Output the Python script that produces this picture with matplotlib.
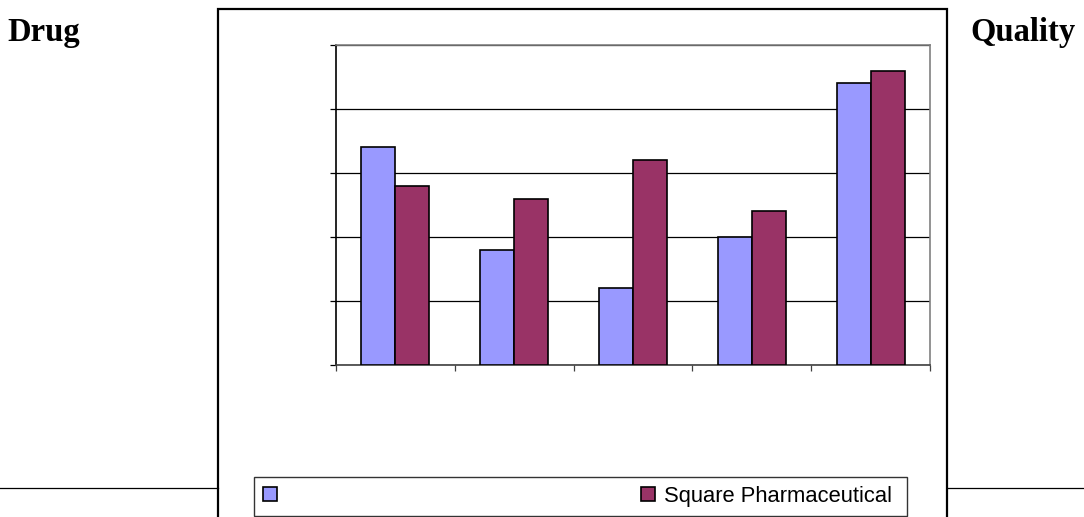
import numpy as np
import matplotlib.pyplot as plt
from matplotlib.patches import Rectangle, Patch
from matplotlib.lines import Line2D

# data (no axis labels in the original)
categories = ['1', '2', '3', '4', '5']
series_names = ['', 'Square Pharmaceutical']
values_blue = [3.4, 1.8, 1.2, 2.0, 4.4]
values_red = [2.8, 2.6, 3.2, 2.4, 4.6]

blue = '#9999FF'
red = '#993366'

W, H = 1084, 517
fig = plt.figure(figsize=(W / 100, H / 100), dpi=100)

# side words of the page text
fig.text(7 / W, 1 - 41 / H, 'Drug', family='Liberation Serif', weight='bold',
         fontsize=23.5, ha='left', va='baseline')
fig.text(1076 / W, 1 - 41 / H, 'Quality', family='Liberation Serif', weight='bold',
         fontsize=23.5, ha='right', va='baseline')

# page rule lines left and right of the chart frame
fig.add_artist(Line2D([0, 218 / W], [1 - 488 / H] * 2, color='black', lw=0.9))
fig.add_artist(Line2D([947 / W, 1], [1 - 488 / H] * 2, color='black', lw=0.9))

# outer chart frame (runs past the bottom edge)
fig.add_artist(Rectangle((218 / W, -0.05), (947 - 218) / W, 1 - 9 / H + 0.05,
                         transform=fig.transFigure, fill=False,
                         edgecolor='black', lw=1.6))

ax = fig.add_axes([336 / W, 1 - 365 / H, 594 / W, 320 / H])
x = np.arange(len(categories))
bw = 0.286
ax.bar(x - bw / 2, values_blue, bw, color=blue, edgecolor='black', lw=1.2, zorder=3)
ax.bar(x + bw / 2, values_red, bw, color=red, edgecolor='black', lw=1.2, zorder=3)

ax.set_xlim(-0.5, len(categories) - 0.5)
ax.set_ylim(0, 5)
ax.set_yticks(np.arange(0, 6, 1))
ax.set_xticks(np.arange(-0.5, len(categories), 1))
ax.set_xticklabels([])
ax.set_yticklabels([])
ax.yaxis.grid(True, color='black', lw=0.9, zorder=0)
ax.tick_params(axis='y', direction='out', length=4.5, width=0.9, color='black')
ax.tick_params(axis='x', direction='out', length=4, width=0.9, color='#404040')
ax.spines['left'].set_color('black')
ax.spines['bottom'].set_color('#404040')
ax.spines['top'].set_color('#808080')
ax.spines['right'].set_color('#808080')
for s in ax.spines.values():
    s.set_linewidth(1.2)

handles = [Patch(facecolor=blue, edgecolor='black', lw=1.2),
           Patch(facecolor=red, edgecolor='black', lw=1.2)]
# trailing space keeps the right padding of the original legend
labels = [series_names[0], series_names[1] + '\u00a0']
leg = fig.legend(handles, labels, ncol=2, mode='expand',
                 loc='lower left',
                 bbox_to_anchor=(254 / W, 1 - 516 / H, (907 - 254) / W, 39 / H),
                 borderaxespad=0, fancybox=False, frameon=True,
                 prop={'family': 'Liberation Sans', 'size': 15.8},
                 handlelength=0.65, handleheight=0.65, handletextpad=0.4,
                 borderpad=0.42)
leg.get_frame().set_edgecolor('black')
leg.get_frame().set_linewidth(1.0)

fig.savefig('out.png', dpi=100)
